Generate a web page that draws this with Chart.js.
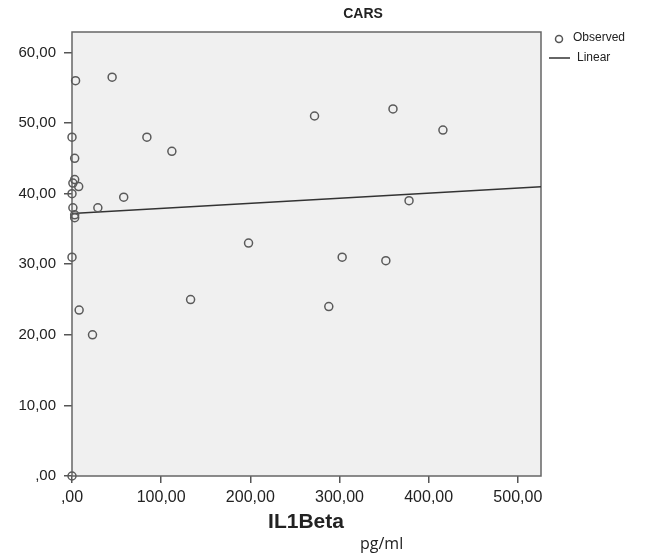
<!DOCTYPE html>
<html lang="en">
<head>
<meta charset="UTF-8">
<title>CARS vs IL1Beta</title>
<script src="https://cdn.jsdelivr.net/npm/chart.js"></script>
<style>
    html, body { margin: 0; padding: 0; background: #ffffff; }
    #chartContainer { width: 650px; height: 553px; position: relative; }
</style>
</head>
<body>

<div id="chartContainer">
    <canvas id="scatterChart" width="650" height="553"></canvas>
</div>

<script>
// observed values (IL1Beta pg/ml, CARS)
const il1beta = [4, 45, 0, 84, 112, 3, 3, 1, 7.5, 0, 58, 1, 29, 3, 3, 0, 8, 23, 133, 0,
                 272, 360, 416, 378, 198, 303, 352, 288];
const cars    = [56, 56.5, 48, 48, 46, 45, 42, 41.5, 41, 40, 39.5, 38, 38, 37, 36.6, 31, 23.5, 20, 25, 0,
                 51, 52, 49, 39, 33, 31, 30.5, 24];

// linear fit
const fitIntercept = 37.2;
const fitSlope = 0.0072;

const xTicks = [0, 100, 200, 300, 400, 500];
const xTickLabels = [',00', '100,00', '200,00', '300,00', '400,00', '500,00'];
const yTicks = [0, 10, 20, 30, 40, 50, 60];
const yTickLabels = [',00', '10,00', '20,00', '30,00', '40,00', '50,00', '60,00'];

const xMax = 526;
const yMax = 62.9;

const points = il1beta.map((x, i) => ({x: x, y: cars[i]}));
const fitLine = [0, xMax].map(x => ({x: x, y: fitIntercept + fitSlope * x}));

// plot background, frame and the extra texts
const decorations = {
    id: 'decorations',
    beforeDatasetsDraw(chart) {
        const a = chart.chartArea;
        const ctx = chart.ctx;
        ctx.save();
        ctx.fillStyle = '#f0f0f0';
        ctx.fillRect(a.left, a.top, a.right - a.left, a.bottom - a.top);
        ctx.strokeStyle = '#666';
        ctx.lineWidth = 1.5;
        ctx.strokeRect(a.left, a.top, a.right - a.left, a.bottom - a.top);
        ctx.restore();
    },
    afterDraw(chart) {
        const ctx = chart.ctx;
        ctx.save();
        ctx.fillStyle = '#222';
        ctx.textBaseline = 'middle';

        // title
        ctx.font = 'bold 14px "Liberation Sans", Arial';
        ctx.textAlign = 'center';
        ctx.fillText('CARS', 363, 14);

        // axis title
        ctx.font = 'bold 21px "Liberation Sans", Arial';
        ctx.fillText('IL1Beta', 306, 522);
        ctx.font = '16px "Open Sans", sans-serif';
        ctx.textAlign = 'left';
        ctx.fillText('pg/ml', 360, 544);

        // legend
        ctx.strokeStyle = '#555';
        ctx.lineWidth = 1.5;
        ctx.beginPath();
        ctx.arc(559, 39, 3.5, 0, Math.PI * 2);
        ctx.stroke();
        ctx.strokeStyle = '#333';
        ctx.beginPath();
        ctx.moveTo(549, 58);
        ctx.lineTo(570, 58);
        ctx.stroke();
        ctx.font = '12px "Liberation Sans", Arial';
        ctx.fillText('Observed', 573, 38);
        ctx.fillText('Linear', 577, 58);
        ctx.restore();
    }
};

const ctx = document.getElementById('scatterChart').getContext('2d');
new Chart(ctx, {
    type: 'scatter',
    data: {
        datasets: [{
            label: 'Observed',
            data: points,
            pointStyle: 'circle',
            pointRadius: 4,
            pointHoverRadius: 4,
            pointBorderColor: '#5a5a5a',
            pointBorderWidth: 1.5,
            pointBackgroundColor: 'rgba(0,0,0,0)',
            clip: false
        }, {
            type: 'line',
            label: 'Linear',
            data: fitLine,
            borderColor: '#333',
            borderWidth: 1.5,
            pointRadius: 0,
            fill: false,
            tension: 0
        }]
    },
    options: {
        responsive: false,
        animation: false,
        devicePixelRatio: 1,
        layout: {
            padding: { top: 32, right: 109, left: 0, bottom: 0 }
        },
        scales: {
            x: {
                type: 'linear',
                min: 0,
                max: xMax,
                border: { display: false },
                grid: {
                    drawOnChartArea: false,
                    drawTicks: true,
                    tickLength: 7,
                    color: '#555',
                    lineWidth: 1.5
                },
                afterBuildTicks: scale => {
                    scale.ticks = xTicks.map(v => ({value: v}));
                },
                afterFit: scale => { scale.height = 77; },
                ticks: {
                    color: '#222',
                    font: { family: '"Liberation Sans", Arial', size: 16 },
                    padding: 5,
                    maxRotation: 0,
                    callback: v => xTickLabels[xTicks.indexOf(v)]
                }
            },
            y: {
                type: 'linear',
                min: 0,
                max: yMax,
                border: { display: false },
                grid: {
                    drawOnChartArea: false,
                    drawTicks: true,
                    tickLength: 8,
                    color: '#555',
                    lineWidth: 1.5
                },
                afterBuildTicks: scale => {
                    scale.ticks = yTicks.map(v => ({value: v}));
                },
                afterFit: scale => { scale.width = 72; },
                ticks: {
                    color: '#222',
                    font: { family: '"Liberation Sans", Arial', size: 15 },
                    padding: 8,
                    callback: v => yTickLabels[yTicks.indexOf(v)]
                }
            }
        },
        plugins: {
            legend: { display: false },
            title: { display: false },
            tooltip: { enabled: false }
        }
    },
    plugins: [decorations]
});
</script>

</body>
</html>
